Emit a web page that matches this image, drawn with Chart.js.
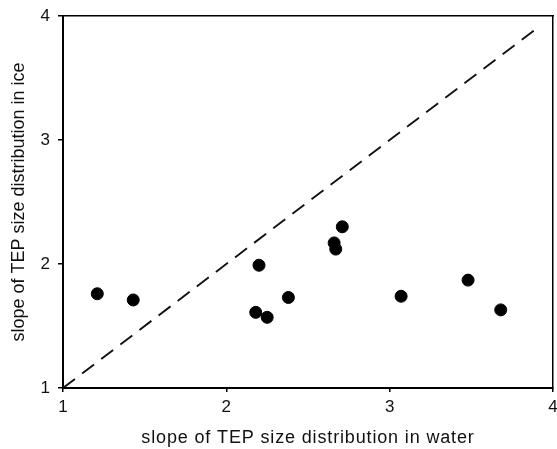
<!DOCTYPE html>
<html>
<head>
<meta charset="utf-8">
<script src="https://cdn.jsdelivr.net/npm/chart.js@4/dist/chart.umd.min.js"></script>
<style>
  html, body { margin: 0; padding: 0; background: #fff; }
  #wrap { width: 557px; height: 449px; }
</style>
</head>
<body>
<div id="wrap"><canvas id="c" width="557" height="449"></canvas></div>
<script>
// Data
const waterSlope = [1.21, 1.43, 2.18, 2.20, 2.25, 2.38, 2.66, 2.67, 2.71, 3.07, 3.48, 3.68];
const iceSlope   = [1.76, 1.71, 1.61, 1.99, 1.57, 1.73, 2.17, 2.12, 2.30, 1.74, 1.87, 1.63];
const oneToOneX  = [1, 3.91];
const oneToOneY  = [1, 3.91];
const tickValues = [1, 2, 3, 4];
const xTitle = 'slope of TEP size distribution in water';
const yTitle = 'slope of TEP size distribution in ice';

const points = waterSlope.map((x, i) => ({ x: x, y: iceSlope[i] }));
const diag = oneToOneX.map((x, i) => ({ x: x, y: oneToOneY[i] }));

const FONT = "'Liberation Sans', Arial, Helvetica, sans-serif";

function spacedTitle(spacing) {
  return function (s) {
    if (s._spacedTitle) return;
    s._spacedTitle = true;
    const orig = s.drawTitle;
    s.drawTitle = function () {
      const ctx = this.ctx;
      ctx.save();
      ctx.letterSpacing = spacing;
      orig.apply(this, arguments);
      ctx.restore();
    };
  };
}

new Chart(document.getElementById('c'), {
  type: 'scatter',
  data: {
    datasets: [
      {
        type: 'line',
        data: diag,
        borderColor: '#111',
        borderWidth: 1.9,
        borderDash: [15, 9],
        pointRadius: 0,
        fill: false,
        order: 2
      },
      {
        data: points,
        backgroundColor: '#000',
        borderColor: '#000',
        pointRadius: 6,
        pointHoverRadius: 6,
        order: 1
      }
    ]
  },
  options: {
    responsive: false,
    animation: false,
    events: [],
    layout: { autoPadding: false, padding: { left: 0, right: 4, top: 16, bottom: 0 } },
    plugins: { legend: { display: false }, tooltip: { enabled: false } },
    scales: {
      x: {
        type: 'linear',
        position: 'bottom',
        min: 1, max: 4,
        afterBuildTicks: s => { s.ticks = tickValues.map(v => ({ value: v })); },
        afterFit: s => { s.height = 61; s.paddingLeft = 0; s.paddingRight = 0; },
        afterUpdate: spacedTitle('0.85px'),
        grid: { drawOnChartArea: false, drawTicks: true, tickLength: 4, color: '#000', lineWidth: 1.5 },
        border: { display: true, color: '#000', width: 2 },
        ticks: { color: '#111', padding: 5, font: { family: FONT, size: 17 }, maxRotation: 0 },
        title: { display: true, text: xTitle, color: '#111', font: { family: FONT, size: 18 }, padding: { top: 0, bottom: 0 } }
      },
      y: {
        type: 'linear',
        position: 'left',
        min: 1, max: 4,
        afterBuildTicks: s => { s.ticks = tickValues.map(v => ({ value: v })); },
        afterFit: s => { s.width = 63; s.paddingTop = 0; s.paddingBottom = 0; },
        grid: { drawOnChartArea: false, drawTicks: true, tickLength: 5, color: '#000', lineWidth: 1.5 },
        border: { display: true, color: '#000', width: 2 },
        ticks: { color: '#111', padding: 8, font: { family: FONT, size: 17 } },
        title: { display: true, text: yTitle, color: '#111', font: { family: FONT, size: 18 }, padding: { top: 8, bottom: 0 } }
      },
      xTop: {
        type: 'linear',
        position: 'top',
        min: 1, max: 4,
        afterFit: s => { s.height = 0; },
        grid: { display: false },
        border: { display: true, color: '#000', width: 1.5 },
        ticks: { display: false }
      },
      yRight: {
        type: 'linear',
        position: 'right',
        min: 1, max: 4,
        afterFit: s => { s.width = 0; },
        grid: { display: false },
        border: { display: true, color: '#000', width: 1.5 },
        ticks: { display: false }
      }
    }
  }
});
</script>
</body>
</html>
